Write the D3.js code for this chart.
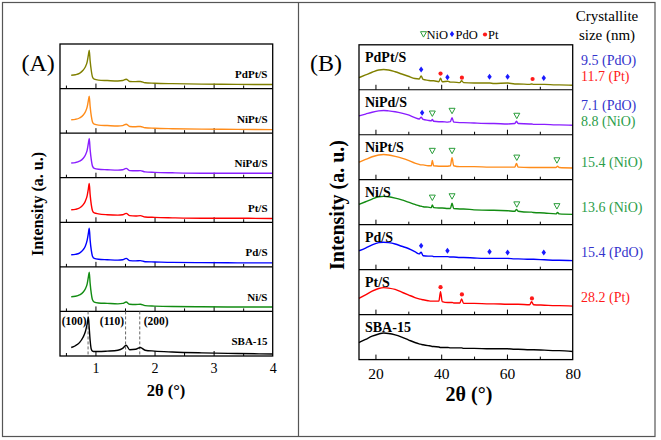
<!DOCTYPE html>
<html><head><meta charset="utf-8">
<script src="https://cdn.jsdelivr.net/npm/d3@7"></script>
<style>body{margin:0;background:#fff}svg{display:block}svg text{font-family:'Liberation Serif','Times New Roman','DejaVu Serif',serif !important}</style>
</head><body><svg id="c" width="661" height="440" font-family="Liberation Serif, DejaVu Serif, serif"></svg>
<script>
// ---------- Panel A data (low-angle XRD) ----------
const samplesA = ["PdPt/S","NiPt/S","NiPd/S","Pt/S","Pd/S","Ni/S","SBA-15"];
const colorsA  = ["#808000","#ff8c1a","#8a1eff","#ff0000","#0000ff","#128c12","#000000"];
const xA = [0.59,0.66,0.73,0.79,0.83,0.86,0.88,0.895,0.91,0.93,0.95,0.98,1.05,1.2,1.38,1.46,1.52,1.58,1.68,1.76,1.84,2.0,2.3,2.8,3.4,4.0];
const pdptA = [0.30,0.31,0.34,0.41,0.49,0.60,0.75,0.86,0.62,0.40,0.26,0.21,0.19,0.18,0.17,0.18,0.21,0.16,0.155,0.16,0.13,0.12,0.11,0.10,0.095,0.09];
const niptA = [0.30,0.31,0.34,0.40,0.48,0.59,0.73,0.83,0.60,0.38,0.25,0.20,0.18,0.17,0.16,0.17,0.20,0.15,0.145,0.15,0.12,0.11,0.10,0.09,0.085,0.08];
const nipdA = [0.33,0.34,0.37,0.43,0.51,0.62,0.77,0.88,0.63,0.40,0.26,0.21,0.19,0.18,0.17,0.18,0.21,0.16,0.155,0.16,0.13,0.12,0.11,0.10,0.10,0.10];
const ptA   = [0.28,0.29,0.32,0.39,0.48,0.60,0.75,0.87,0.62,0.39,0.26,0.21,0.19,0.17,0.16,0.17,0.20,0.15,0.14,0.15,0.12,0.11,0.10,0.09,0.09,0.085];
const pdA   = [0.27,0.28,0.31,0.38,0.47,0.60,0.75,0.87,0.60,0.37,0.24,0.19,0.17,0.16,0.15,0.16,0.19,0.14,0.135,0.14,0.115,0.11,0.10,0.095,0.09,0.09];
const niA   = [0.33,0.34,0.37,0.43,0.51,0.62,0.77,0.88,0.63,0.40,0.26,0.21,0.19,0.18,0.17,0.18,0.21,0.16,0.155,0.16,0.13,0.12,0.11,0.105,0.10,0.10];
const sbaA  = [0.19,0.23,0.30,0.42,0.55,0.72,0.87,0.62,0.35,0.15,0.11,0.10,0.10,0.11,0.13,0.17,0.24,0.14,0.15,0.19,0.13,0.11,0.09,0.07,0.055,0.045];
const seriesA = [pdptA, niptA, nipdA, ptA, pdA, niA, sbaA];
const hklPos = [0.875, 1.51, 1.75];
const hklLabels = ["(100)","(110)","(200)"];
const ticksA = [0.5,1,1.5,2,2.5,3,3.5];
const tickLabelsA = [1,2,3,4];

// ---------- Panel B data (wide-angle XRD) ----------
const samplesB = ["PdPt/S","NiPd/S","NiPt/S","Ni/S","Pd/S","Pt/S","SBA-15"];
const colorsB  = ["#808000","#8a1eff","#ff8c1a","#128c12","#0000ff","#ff0000","#000000"];
const xB = [15,17,19,21,22.5,24,26,28,30,32,33.3,33.9,34.5,36,37.0,37.3,37.7,39.3,39.8,40.3,42,42.8,43.3,43.8,45.7,46.2,46.8,50,54.8,56,60.2,62.4,62.9,63.4,66.9,67.5,68.1,71.4,74.9,75.4,75.9,80];
const pdptB = [0.27,0.33,0.39,0.44,0.45,0.44,0.40,0.35,0.30,0.25,0.24,0.31,0.23,0.21,0.20,0.20,0.20,0.18,0.26,0.18,0.19,0.17,0.17,0.17,0.16,0.20,0.16,0.15,0.15,0.14,0.15,0.13,0.13,0.13,0.12,0.13,0.12,0.12,0.11,0.11,0.11,0.10];
const nipdB = [0.42,0.46,0.50,0.53,0.54,0.53,0.51,0.48,0.44,0.38,0.35,0.39,0.34,0.32,0.31,0.34,0.30,0.29,0.29,0.29,0.28,0.29,0.38,0.28,0.27,0.27,0.27,0.26,0.25,0.25,0.24,0.25,0.30,0.25,0.24,0.24,0.23,0.23,0.22,0.22,0.22,0.21];
const niptB = [0.39,0.45,0.51,0.55,0.56,0.55,0.52,0.48,0.43,0.37,0.34,0.33,0.33,0.31,0.31,0.43,0.31,0.30,0.30,0.30,0.30,0.31,0.49,0.31,0.29,0.29,0.29,0.29,0.28,0.28,0.28,0.28,0.36,0.28,0.27,0.27,0.27,0.27,0.27,0.30,0.27,0.26];
const niB   = [0.45,0.51,0.57,0.62,0.63,0.62,0.59,0.55,0.50,0.45,0.42,0.41,0.40,0.39,0.38,0.44,0.38,0.37,0.37,0.37,0.36,0.36,0.48,0.36,0.35,0.35,0.35,0.33,0.32,0.32,0.31,0.30,0.34,0.30,0.28,0.28,0.27,0.26,0.24,0.27,0.24,0.23];
const pdB   = [0.42,0.48,0.55,0.60,0.61,0.60,0.57,0.52,0.47,0.40,0.35,0.39,0.31,0.30,0.30,0.30,0.29,0.29,0.29,0.29,0.29,0.28,0.28,0.28,0.27,0.27,0.27,0.26,0.25,0.25,0.25,0.24,0.24,0.24,0.23,0.23,0.23,0.22,0.21,0.21,0.21,0.20];
const ptB   = [0.36,0.44,0.52,0.58,0.60,0.59,0.56,0.50,0.44,0.38,0.35,0.34,0.33,0.31,0.30,0.30,0.30,0.30,0.51,0.29,0.27,0.27,0.27,0.26,0.26,0.35,0.25,0.25,0.24,0.24,0.23,0.23,0.23,0.23,0.22,0.29,0.22,0.21,0.20,0.20,0.20,0.19];
const sbaB  = [0.38,0.45,0.52,0.57,0.59,0.58,0.55,0.50,0.44,0.38,0.35,0.34,0.33,0.31,0.30,0.29,0.29,0.28,0.27,0.27,0.27,0.26,0.26,0.26,0.26,0.26,0.25,0.25,0.24,0.24,0.24,0.23,0.23,0.23,0.22,0.22,0.22,0.21,0.20,0.20,0.20,0.18];
const seriesB = [pdptB, nipdB, niptB, niB, pdB, ptB, sbaB];
const ticksB = [20,30,40,50,60,70];
const tickLabelsB = [20,40,60,80];

// phase markers per panel-B subplot: [2theta, height]
const markNiO = [[], [[37.3,0.47],[43.3,0.53],[63.0,0.42]], [[37.3,0.64],[43.3,0.64],[63.0,0.49],[75.2,0.43]], [[37.3,0.60],[43.3,0.63],[63.0,0.45],[75.2,0.41]], [], [], []];
const markPdO = [[[33.9,0.45],[41.9,0.28],[54.7,0.29],[60.2,0.29],[71.2,0.26]], [[34.2,0.49]], [], [], [[33.9,0.53],[41.9,0.42],[54.7,0.40],[60.2,0.38],[71.2,0.38]], [], []];
const markPt  = [[[39.8,0.36],[46.3,0.27],[67.8,0.24]], [], [], [], [], [[39.8,0.61],[46.3,0.45],[67.6,0.36]], []];

// crystallite sizes per subplot
const sizeText  = [["9.5 (PdO)","11.7 (Pt)"], ["7.1 (PdO)","8.8 (NiO)"], ["15.4 (NiO)"], ["13.6 (NiO)"], ["15.4 (PdO)"], ["28.2 (Pt)"], []];
const sizePhase = [["PdO","Pt"], ["PdO","NiO"], ["NiO"], ["NiO"], ["PdO"], ["Pt"], []];
const phaseColor = {PdO:"#3333cc", Pt:"#ff1a1a", NiO:"#2a9d4a"};

const svg = d3.select("#c");
const serif = "Liberation Serif, DejaVu Serif, serif";

// outer frame and divider
svg.append("rect").attr("x",2.5).attr("y",2.5).attr("width",652.5).attr("height",434).attr("fill","none").attr("stroke","#555").attr("stroke-width",1.2);
svg.append("line").attr("x1",298.5).attr("x2",298.5).attr("y1",2.5).attr("y2",436.5).attr("stroke","#555").attr("stroke-width",1.2);

function txt(sel){ return sel.append("text").attr("font-family",serif); }

function drawPanel(o) {
  const x = d3.scaleLinear().domain(o.domain).range([o.left, o.right]);
  const n = o.series.length;
  const h = (o.bottom - o.top) / n;
  const g = svg.append("g");
  o.series.forEach((vals, i) => {
    const t = o.top + i*h, b = t + h;
    const y = d3.scaleLinear().domain([0,1]).range([b, t]);
    const line = d3.line().x((d,k)=>x(o.xs[k])).y(d=>y(d)).curve(d3.curveMonotoneX);
    const maj = o.ticks.filter(v => o.major(v));
    const mnr = o.ticks.filter(v => !o.major(v));
    g.append("g").attr("transform",`translate(0,${b})`)
      .call(d3.axisBottom(x).tickValues(maj).tickSize(-5).tickFormat(""))
      .call(s=>{s.select(".domain").remove(); s.selectAll("line").attr("stroke","#000").attr("stroke-width",1);});
    g.append("g").attr("transform",`translate(0,${b})`)
      .call(d3.axisBottom(x).tickValues(mnr).tickSize(-3).tickFormat(""))
      .call(s=>{s.select(".domain").remove(); s.selectAll("line").attr("stroke","#000").attr("stroke-width",1);});
    if (o.extra) o.extra(g, i, x, y, t, b);
    g.append("path").datum(vals).attr("d", line).attr("fill","none").attr("stroke",o.colors[i]).attr("stroke-width",1.4);
    if (o.labels) o.labels(g, i, x, y, t, b);
    if (i < n-1) g.append("line").attr("x1",o.left).attr("x2",o.right).attr("y1",b).attr("y2",b).attr("stroke","#000").attr("stroke-width",1.2);
  });
  g.append("rect").attr("x",o.left).attr("y",o.top).attr("width",o.right-o.left).attr("height",o.bottom-o.top)
    .attr("fill","none").attr("stroke","#000").attr("stroke-width",1.3);
  g.append("g").attr("transform",`translate(0,${o.bottom})`)
    .call(d3.axisBottom(x).tickValues(o.tickLabels).tickSize(0).tickPadding(o.labelPad).tickFormat(d3.format("d")))
    .call(s=>{s.attr("font-family",serif); s.select(".domain").remove(); s.selectAll("text").attr("font-family",serif).attr("font-size",o.tickFont).attr("fill","#000");});
  return x;
}

// Panel A
drawPanel({
  domain:[0.4,4], left:60, right:272.7, top:44, bottom:356,
  series:seriesA, xs:xA, colors:colorsA, ticks:ticksA, major:v=>Number.isInteger(v),
  tickLabels:tickLabelsA, tickFont:14, labelPad:7,
  extra:(g,i,x,y,t,b)=>{
    if (i===6) {
      hklPos.forEach(p=>g.append("line").attr("x1",x(p)).attr("x2",x(p)).attr("y1",t).attr("y2",b)
        .attr("stroke","#666").attr("stroke-dasharray","3,2").attr("stroke-width",1));
      hklLabels.forEach((lab,k)=>{
        const anchorEnd = k<2;
        txt(g).attr("x", x(hklPos[k]) + (anchorEnd?-1.5:4)).attr("y", t+14)
          .attr("text-anchor", anchorEnd?"end":"start").attr("font-weight","bold").attr("font-size",11.5).text(lab);
      });
    }
  },
  labels:(g,i,x,y,t,b)=>{
    txt(g).attr("x",267.5).attr("y",t+34).attr("text-anchor","end").attr("font-weight","bold").attr("font-size",11).text(samplesA[i]);
  }
});

// Panel B
drawPanel({
  domain:[15,80], left:359, right:572.7, top:44.8, bottom:359.6,
  series:seriesB, xs:xB, colors:colorsB, ticks:ticksB, major:v=>v%20===0,
  tickLabels:tickLabelsB, tickFont:15.5, labelPad:8,
  labels:(g,i,x,y,t,b)=>{
    txt(g).attr("x",365).attr("y",t+17.5).attr("font-weight","bold").attr("font-size",14).text(samplesB[i]);
    markNiO[i].forEach(d=>g.append("path").attr("transform",`translate(${x(d[0])},${y(d[1])})`)
      .attr("d","M-3,-2.6L3,-2.6L0,2.8Z").attr("fill","none").attr("stroke","#2a9d3a").attr("stroke-width",1));
    markPdO[i].forEach(d=>g.append("path").attr("transform",`translate(${x(d[0])},${y(d[1])})`)
      .attr("d","M0,-3L2.2,0L0,3L-2.2,0Z").attr("fill","#1a1aff"));
    markPt[i].forEach(d=>g.append("circle").attr("cx",x(d[0])).attr("cy",y(d[1])).attr("r",2.1).attr("fill","#ff1a1a"));
    const c = (t+b)/2;
    const lines = sizeText[i];
    lines.forEach((s,k)=>{
      const yy = lines.length===2 ? (k===0 ? c-2.5 : c+14) : c+9.5;
      txt(g).attr("x",581).attr("y",yy).attr("font-size",14).attr("fill",phaseColor[sizePhase[i][k]]).text(s);
    });
  }
});

// axis titles
txt(svg).attr("x",166).attr("y",396).attr("text-anchor","middle").attr("font-weight","bold").attr("font-size",16.5).text("2θ (°)");
txt(svg).attr("x",469).attr("y",401).attr("text-anchor","middle").attr("font-weight","bold").attr("font-size",20).text("2θ (°)");
txt(svg).attr("transform","translate(42.5,204) rotate(-90)").attr("text-anchor","middle").attr("font-weight","bold").attr("font-size",16).text("Intensity (a. u.)");
txt(svg).attr("transform","translate(344,205) rotate(-90)").attr("text-anchor","middle").attr("font-weight","bold").attr("font-size",20).text("Intensity (a. u.)");
txt(svg).attr("x",21.5).attr("y",71).attr("font-size",24).text("(A)");
txt(svg).attr("x",310).attr("y",71).attr("font-size",24).text("(B)");

// legend
svg.append("path").attr("transform","translate(423.5,34.3)").attr("d","M-3,-2.6L3,-2.6L0,2.8Z").attr("fill","none").attr("stroke","#2a9d3a").attr("stroke-width",1);
txt(svg).attr("x",426.5).attr("y",38.5).attr("font-size",12.5).text("NiO");
svg.append("path").attr("transform","translate(452,34)").attr("d","M0,-3L2.2,0L0,3L-2.2,0Z").attr("fill","#1a1aff");
txt(svg).attr("x",455.5).attr("y",38.5).attr("font-size",12.5).text("PdO");
svg.append("circle").attr("cx",485).attr("cy",34.5).attr("r",2.1).attr("fill","#ff1a1a");
txt(svg).attr("x",488).attr("y",38.5).attr("font-size",12.5).text("Pt");

// crystallite header
txt(svg).attr("x",607).attr("y",20.5).attr("text-anchor","middle").attr("font-size",15).text("Crystallite");
txt(svg).attr("x",607).attr("y",39.5).attr("text-anchor","middle").attr("font-size",15).text("size (nm)");
</script></body></html>
